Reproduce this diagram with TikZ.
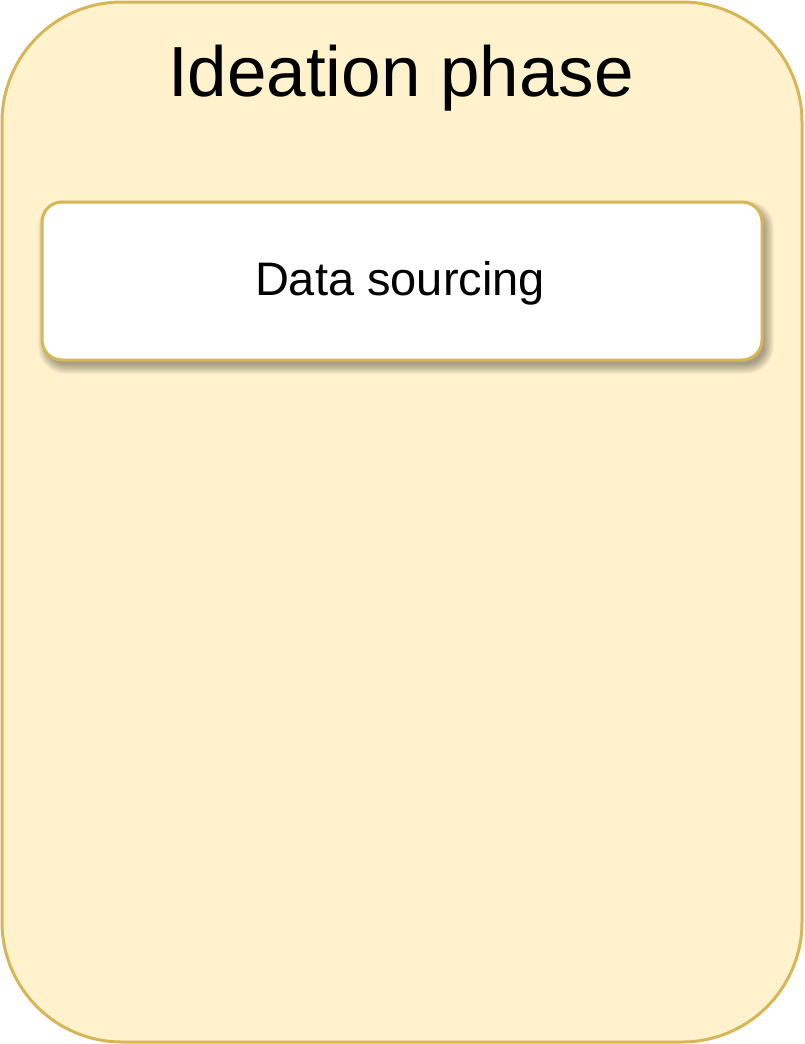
\documentclass[tikz,border=0pt]{standalone}
\usepackage{fontspec}
\setmainfont{Liberation Sans}
\definecolor{phasefill}{HTML}{FFF2CC}
\definecolor{phasedraw}{HTML}{D6B656}
\begin{document}
\begin{tikzpicture}[x=1pt,y=-1pt,
  phasebox/.style={draw=phasedraw,fill=phasefill,line width=3pt,rounded corners=120pt},
  stepbox/.style={draw=phasedraw,fill=white,line width=3pt,rounded corners=20pt},
  shadowlayer/.style={fill=black,fill opacity=0.035,draw=none}]
\useasboundingbox (0,0) rectangle (804,1044);
\draw[phasebox] (2,2) rectangle (802,1042);
\node[anchor=base,font=\fontsize{71}{80}\selectfont,inner sep=0] (title) at (401,96) {Ideation phase};
\foreach \e in {8,7,...,-2}{
  \fill[shadowlayer,rounded corners={20pt+\e pt}] (46-\e,208-\e) rectangle (766+\e,366+\e);
}
\draw[stepbox] (42,202) rectangle (762,360);
\node[font=\fontsize{47}{54}\selectfont,inner sep=0,anchor=base] (ds) at (400,295) {Data sourcing};
\end{tikzpicture}
\end{document}
